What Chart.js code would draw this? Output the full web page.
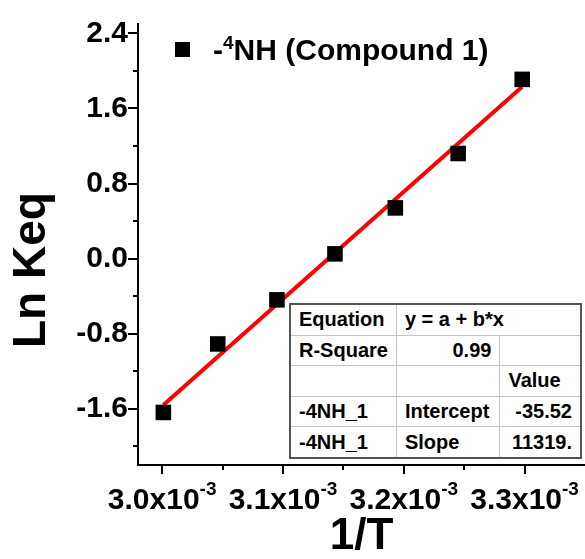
<!DOCTYPE html>
<html>
<head>
<meta charset="utf-8">
<script src="https://cdn.jsdelivr.net/npm/chart.js@4.4.1/dist/chart.umd.min.js"></script>
<style>
  body { margin: 0; background: #fff; }
  #wrap { position: relative; width: 585px; height: 559px; overflow: hidden; }
  #legend { position: absolute; left: 175px; top: 35px; font: bold 30px 'Liberation Sans', Arial, sans-serif; line-height: 30px; white-space: nowrap; }
  #legend .mark { position: absolute; left: 0; top: 7px; width: 15px; height: 15px; background: #000; }
  #legend .txt { position: absolute; left: 38px; top: 0; }
  #legend sup { font-size: 19px; line-height: 0; vertical-align: 11px; }
  #fitTable { position: absolute; left: 289px; top: 303px; width: 293px; border-collapse: collapse; background: #fff;
              font: bold 20px 'Liberation Sans', Arial, sans-serif; border: 2px solid #555; }
  #fitTable td { border: 1.5px solid #c4c4c4; height: 29.6px; padding: 0 8px; white-space: nowrap; }
  #fitTable td.r { text-align: right; }
</style>
</head>
<body>
<div id="wrap">
  <canvas id="myChart" width="585" height="559"></canvas>
  <div id="legend"><div class="mark"></div><span class="txt">-<sup>4</sup>NH (Compound 1)</span></div>
  <table id="fitTable"></table>
</div>
<script>
// data
var invT = [0.003001, 0.003046, 0.003095, 0.003143, 0.003193, 0.003245, 0.003298];
var lnKeq = [-1.64, -0.91, -0.44, 0.05, 0.54, 1.12, 1.91];
var fitX = [0.003001, 0.003298];
var fitY = [-1.56, 1.83];

// axis ticks
var yMajorTicks = [-1.6, -0.8, 0.0, 0.8, 1.6, 2.4];
var yMinorTicks = [-2.0, -1.2, -0.4, 0.4, 1.2, 2.0];
var xMajorTicks = [0.0030, 0.0031, 0.0032, 0.0033];
var xMinorTicks = [0.00305, 0.00315, 0.00325];
var xTickLabels = ['3.0x10', '3.1x10', '3.2x10', '3.3x10'];
var xTickExp = '-3';

// fit table
var tableRows = [
    [['Equation', ''], ['y = a + b*x', '', 2]],
    [['R-Square', ''], ['0.99', 'r'], ['', '']],
    [['', ''], ['', ''], ['Value', '']],
    [['-4NH_1', ''], ['Intercept', ''], ['-35.52', 'r']],
    [['-4NH_1', ''], ['Slope', ''], ['11319.', 'r']]
];

var fontFamily = "'Liberation Sans', Arial, sans-serif";

// build the table
var table = document.getElementById('fitTable');
var colWidths = [105, 105, 83];
for (var r = 0; r < tableRows.length; r++) {
    var row = document.createElement('tr');
    for (var c = 0; c < tableRows[r].length; c++) {
        var cell = document.createElement('td');
        cell.textContent = tableRows[r][c][0];
        if (tableRows[r][c][1]) cell.className = tableRows[r][c][1];
        if (tableRows[r][c][2]) cell.colSpan = tableRows[r][c][2];
        if (r === 1) cell.style.width = (colWidths[c] - 17) + 'px';
        row.appendChild(cell);
    }
    table.appendChild(row);
}

// ticks with long/short marks and x labels with superscript
var axisExtras = {
    id: 'axisExtras',
    afterDraw: function(chart) {
        var ctx = chart.ctx;
        var xs = chart.scales.x;
        var ys = chart.scales.y;
        var area = chart.chartArea;
        ctx.save();
        ctx.strokeStyle = '#000';
        ctx.lineWidth = 2;
        ctx.beginPath();
        yMajorTicks.forEach(function(v) {
            var p = Math.round(ys.getPixelForValue(v));
            ctx.moveTo(area.left - 10, p); ctx.lineTo(area.left, p);
        });
        yMinorTicks.forEach(function(v) {
            var p = Math.round(ys.getPixelForValue(v));
            ctx.moveTo(area.left - 5, p); ctx.lineTo(area.left, p);
        });
        xMajorTicks.forEach(function(v) {
            var p = Math.round(xs.getPixelForValue(v));
            ctx.moveTo(p, area.bottom); ctx.lineTo(p, area.bottom + 9);
        });
        xMinorTicks.forEach(function(v) {
            var p = Math.round(xs.getPixelForValue(v));
            ctx.moveTo(p, area.bottom); ctx.lineTo(p, area.bottom + 5);
        });
        ctx.stroke();

        ctx.fillStyle = '#000';
        ctx.textBaseline = 'alphabetic';
        ctx.textAlign = 'left';
        var big = 'bold 30px ' + fontFamily;
        var small = 'bold 19px ' + fontFamily;
        xMajorTicks.forEach(function(v, i) {
            var p = xs.getPixelForValue(v);
            ctx.font = big;
            var w1 = ctx.measureText(xTickLabels[i]).width;
            ctx.font = small;
            var w2 = ctx.measureText(xTickExp).width;
            var x0 = p - (w1 + w2) / 2;
            ctx.font = big;
            ctx.fillText(xTickLabels[i], x0, area.bottom + 44);
            ctx.font = small;
            ctx.fillText(xTickExp, x0 + w1, area.bottom + 30);
        });
        ctx.restore();
    }
};

var ctx = document.getElementById('myChart').getContext('2d');
var myChart = new Chart(ctx, {
    type: 'scatter',
    data: {
        datasets: [{
            label: '-4NH (Compound 1)',
            data: invT.map(function(x, i) { return {x: x, y: lnKeq[i]}; }),
            pointStyle: 'rect',
            pointRadius: 11,
            pointBorderWidth: 0,
            backgroundColor: '#000',
            borderColor: '#000',
            order: 0
        },
        {
            label: 'fit',
            data: fitX.map(function(x, i) { return {x: x, y: fitY[i]}; }),
            showLine: true,
            borderColor: '#ff0000',
            borderWidth: 4,
            pointRadius: 0,
            order: 1
        }]
    },
    options: {
        responsive: false,
        animation: false,
        layout: { autoPadding: false, padding: { top: 24, right: 0, bottom: 0, left: 0 } },
        plugins: {
            legend: { display: false },
            tooltip: { enabled: false }
        },
        scales: {
            x: {
                type: 'linear',
                min: 0.00298,
                max: 0.00335,
                grid: { display: false, drawTicks: false },
                border: { display: true, color: '#000', width: 2 },
                ticks: { display: false },
                title: {
                    display: true,
                    text: '1/T',
                    color: '#000',
                    font: { family: fontFamily, size: 44, weight: 'bold', lineHeight: 1 },
                    padding: 0
                },
                afterFit: function(scale) { scale.height = 94; }
            },
            y: {
                min: -2.2,
                max: 2.5,
                grid: { display: false, drawTicks: false },
                border: { display: true, color: '#000', width: 2 },
                afterBuildTicks: function(scale) {
                    scale.ticks = yMinorTicks.concat(yMajorTicks).sort(function(a, b) { return a - b; })
                        .map(function(v) { return {value: v}; });
                },
                ticks: {
                    color: '#000',
                    padding: 10,
                    font: { family: fontFamily, size: 30, weight: 'bold', lineHeight: 0.8 },
                    callback: function(value) {
                        for (var i = 0; i < yMajorTicks.length; i++) {
                            if (Math.abs(yMajorTicks[i] - value) < 1e-6) return yMajorTicks[i].toFixed(1);
                        }
                        return '';
                    }
                },
                title: {
                    display: true,
                    text: 'Ln Keq    ',
                    color: '#000',
                    font: { family: fontFamily, size: 46, weight: 'bold', lineHeight: 1 },
                    padding: { top: 9, bottom: 0 }
                },
                afterFit: function(scale) { scale.width = 138; }
            }
        }
    },
    plugins: [axisExtras]
});
</script>
</body>
</html>
